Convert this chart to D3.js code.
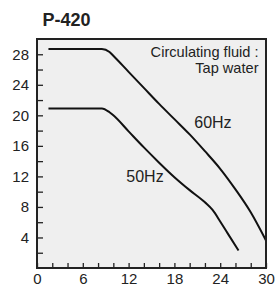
<!DOCTYPE html>
<html><head><meta charset="utf-8">
<script src="https://cdn.jsdelivr.net/npm/d3@7"></script>
<style>
html,body{margin:0;padding:0;background:#fff;}
svg{display:block;font-family:"Liberation Sans",Arial,sans-serif;}
</style></head>
<body>
<svg id="c" width="278" height="286"></svg>
<script>
const title = "P-420";
const xTicks = [0,2,4,6,8,10,12,14,16,18,20,22,24,26,28,30];
const xLabels = [0,6,12,18,24,30];
const yTicks = [2,4,6,8,10,12,14,16,18,20,22,24,26,28];
const yLabels = [4,8,12,16,20,24,28];
const flow60 = [1.5,8.5,9.5,10,12,14,16,18,20,22,24,26,28,30];
const head60 = [28.7,28.7,28.3,27.8,25.7,23.6,21.5,19.5,17.5,15.3,13.0,10.3,7.3,3.6];
const flow50 = [1.5,8.5,9.5,10,12,14,16,18,20,22,23,24,25,26.4];
const head50 = [20.9,20.9,20.4,20.0,17.9,15.8,13.8,11.9,10.2,8.6,7.6,6.1,4.5,2.3];
const note = ["Circulating fluid :","Tap water"];
const labels = [{t:"60Hz",x:20.6,y:18.3},{t:"50Hz",x:11.7,y:11.3}];

const svg = d3.select("#c");
const x = d3.scaleLinear().domain([0,30]).range([37,266]);
const y = d3.scaleLinear().domain([0,30]).range([268,39]);

svg.append("rect").attr("x",x(0)).attr("y",y(30)).attr("width",x(30)-x(0)).attr("height",y(0)-y(30)).attr("fill","#efefef");

const xa = svg.append("g").attr("transform",`translate(0,${y(0)})`)
  .call(d3.axisBottom(x).tickValues(xTicks).tickSize(-5).tickPadding(5)
    .tickFormat(d=>xLabels.includes(d)?d:""));
const ya = svg.append("g").attr("transform",`translate(${x(0)},0)`)
  .call(d3.axisLeft(y).tickValues(yTicks).tickSize(-6).tickPadding(8)
    .tickFormat(d=>yLabels.includes(d)?d:""));
[xa,ya].forEach(g=>{
  g.select(".domain").remove();
  g.selectAll(".tick line").attr("stroke","#222").attr("stroke-width",1.3);
  g.selectAll("text").attr("font-size",15).attr("fill","#222")
    .attr("font-family",'"Liberation Sans",Arial,sans-serif');
});

const line = d3.line().x(d=>x(d[0])).y(d=>y(d[1])).curve(d3.curveMonotoneX);
[[flow60,head60],[flow50,head50]].forEach(([f,h])=>{
  svg.append("path").datum(f.map((v,i)=>[v,h[i]])).attr("d",line)
    .attr("fill","none").attr("stroke","#111").attr("stroke-width",2);
});

svg.append("rect").attr("x",x(0)).attr("y",y(30)).attr("width",x(30)-x(0)).attr("height",y(0)-y(30))
  .attr("fill","none").attr("stroke","#222").attr("stroke-width",2);

svg.append("text").attr("x",42.5).attr("y",26).attr("font-size",18).attr("font-weight","bold")
  .attr("fill","#222").text(title);

svg.append("text").attr("text-anchor","end").attr("font-size",14.6).attr("fill","#222")
  .selectAll("tspan").data(note).join("tspan")
  .attr("x",258.5).attr("y",(d,i)=>57+i*16.3).text(d=>d);

svg.selectAll(".lbl").data(labels).join("text").attr("class","lbl")
  .attr("x",d=>x(d.x)).attr("y",d=>y(d.y)).attr("font-size",16).attr("fill","#222").text(d=>d.t);
</script>
</body></html>
